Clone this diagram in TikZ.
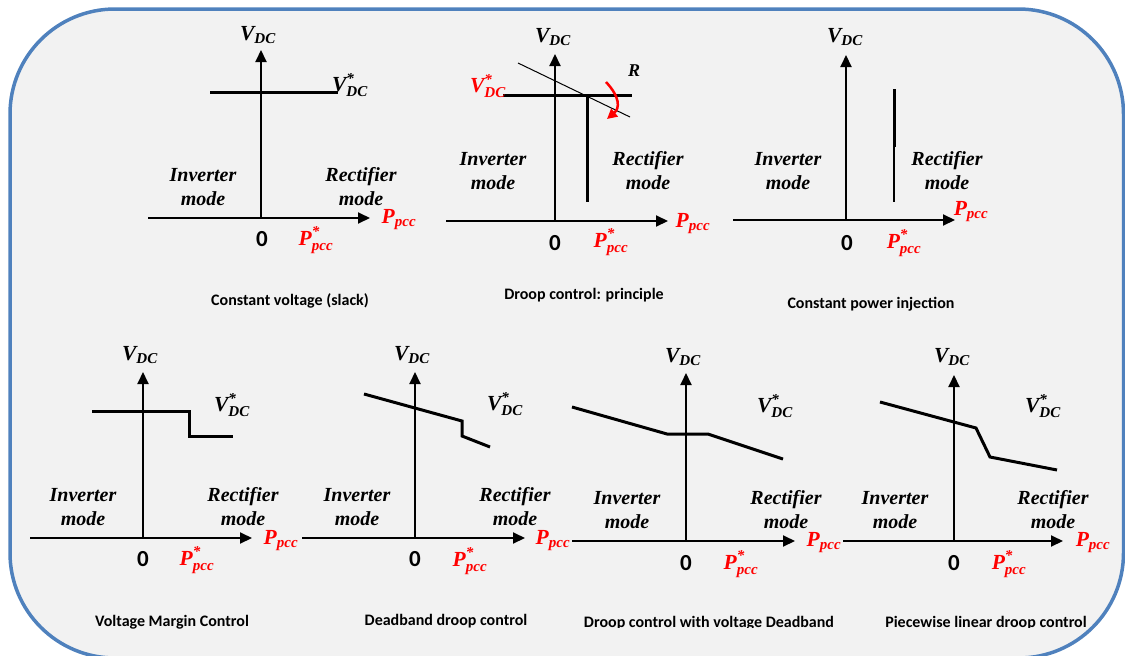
\documentclass[tikz,border=0pt]{standalone}
\usepackage{amsmath}
\usepackage{fontspec}
\setmainfont{Liberation Serif}
\newfontfamily\capfont{Carlito}
\usetikzlibrary{arrows.meta}
\definecolor{Frame_Blue}{HTML}{4F81BD}
\definecolor{Panel_Gray}{HTML}{F2F2F2}
\definecolor{Ref_Red}{HTML}{FF0000}
\newcommand{\bi}[1]{\text{\bfseries\itshape #1}}

\tikzset{
  axis/.style={line width=2pt, -{Triangle[length=12pt,width=11pt]}},
  curve/.style={line width=3pt},
  modelbl/.style={font=\fontsize{20}{24}\selectfont\bfseries\itshape, align=center},
  varlbl/.style={font=\fontsize{21.5}{25}\selectfont, inner sep=0pt},
  reflbl/.style={varlbl, text=Ref_Red},
  zerolbl/.style={font=\capfont\bfseries\fontsize{23}{26}\selectfont, inner sep=0pt},
  caplbl/.style={font=\capfont\bfseries\fontsize{16}{19}\selectfont, inner sep=0pt},
}

\begin{document}
\begin{tikzpicture}[x=1pt, y=-1pt]
    \useasboundingbox (0,0) rectangle (1125,656);
    \clip (0,0) rectangle (1125,656);
    \draw[line width=3.5pt, draw=Frame_Blue, fill=Panel_Gray, rounded corners=105pt] (10,9) rectangle (1123.5,658);

    % constant voltage (slack)
    \draw[axis] (148,218) -- (370,218);
    \draw[axis] (261,218) -- (261,50);
    \draw[curve] (210,92) -- (338,92);
    \node[varlbl] (v1) at (258,35) {$\bi{V}_{\bi{DC}}$};
    \node[varlbl] (vr1) at (350,85) {$\bi{V}^{\bi{*}}_{\bi{DC}}$};
    \node[modelbl] (inv1) at (203,187) {Inverter\\mode};
    \node[modelbl] (rec1) at (361,187) {Rectifier\\mode};
    \node[reflbl] (p1) at (399,220) {$\bi{P}_{\bi{pcc}}$};
    \node[zerolbl] (z1) at (262,239) {0};
    \node[reflbl] (pr1) at (316,240) {$\bi{P}^{\bi{*}}_{\bi{pcc}}$};
    \node[caplbl] (c1) at (290,301) {Constant voltage (slack)};

    % droop control: principle
    \draw[axis] (446,221) -- (668,221);
    \draw[axis] (555,221) -- (555,54);
    \draw[line width=1pt] (518,63) -- (630,117);
    \draw[curve] (503,95) -- (632,95);
    \draw[curve] (587,95) -- (587,202);
    \draw[line width=2.5pt, Ref_Red, -{Triangle[length=10pt,width=10pt]}] (606,82) .. controls (620,97) and (620,108) .. (607,119);
    \node[varlbl] (v2) at (553,37) {$\bi{V}_{\bi{DC}}$};
    \node[reflbl] (vr2) at (488,86) {$\bi{V}^{\bi{*}}_{\bi{DC}}$};
    \node[font=\fontsize{18}{20}\selectfont\bfseries\itshape, inner sep=0pt] (r2) at (634,71) {R};
    \node[modelbl] (inv2) at (493,171) {Inverter\\mode};
    \node[modelbl] (rec2) at (648,171) {Rectifier\\mode};
    \node[reflbl] (p2) at (693,224) {$\bi{P}_{\bi{pcc}}$};
    \node[zerolbl] (z2) at (555,243) {0};
    \node[reflbl] (pr2) at (611,242) {$\bi{P}^{\bi{*}}_{\bi{pcc}}$};
    \node[caplbl] (c2) at (584,295) {Droop control: principle};

    % constant power injection
    \draw[axis] (733,220) -- (955,220);
    \draw[axis] (846,220) -- (846,55);
    \draw[line width=3pt] (894,89) -- (894,147);
    \draw[line width=2pt] (894,147) -- (894,202);
    \node[varlbl] (v3) at (845,37) {$\bi{V}_{\bi{DC}}$};
    \node[modelbl] (inv3) at (788,171) {Inverter\\mode};
    \node[modelbl] (rec3) at (947,171) {Rectifier\\mode};
    \node[reflbl] (p3) at (971,212) {$\bi{P}_{\bi{pcc}}$};
    \node[zerolbl] (z3) at (847,243) {0};
    \node[reflbl] (pr3) at (904,243) {$\bi{P}^{\bi{*}}_{\bi{pcc}}$};
    \node[caplbl] (c3) at (871,304) {Constant power injection};

    % voltage margin control
    \draw[axis] (30,538) -- (252,538);
    \draw[axis] (143,538) -- (143,372);
    \draw[curve] (92,411) -- (189,411) -- (189,436) -- (233,436);
    \node[varlbl] (v4) at (140,355) {$\bi{V}_{\bi{DC}}$};
    \node[varlbl] (vr4) at (232,405) {$\bi{V}^{\bi{*}}_{\bi{DC}}$};
    \node[modelbl] (inv4) at (83,507) {Inverter\\mode};
    \node[modelbl] (rec4) at (243,507) {Rectifier\\mode};
    \node[reflbl] (p4) at (281,541) {$\bi{P}_{\bi{pcc}}$};
    \node[zerolbl] (z4) at (143,559) {0};
    \node[reflbl] (pr4) at (197,560) {$\bi{P}^{\bi{*}}_{\bi{pcc}}$};
    \node[caplbl] (c4) at (172,622) {Voltage Margin Control};

    % deadband droop control
    \draw[axis] (302,538) -- (525,538);
    \draw[axis] (415,538) -- (415,372);
    \draw[curve] (364,394) -- (462,421) -- (462,436) -- (490,447);
    \node[varlbl] (v5) at (412,355) {$\bi{V}_{\bi{DC}}$};
    \node[varlbl] (vr5) at (505,404) {$\bi{V}^{\bi{*}}_{\bi{DC}}$};
    \node[modelbl] (inv5) at (357,507) {Inverter\\mode};
    \node[modelbl] (rec5) at (515,507) {Rectifier\\mode};
    \node[reflbl] (p5) at (553,541) {$\bi{P}_{\bi{pcc}}$};
    \node[zerolbl] (z5) at (415,559) {0};
    \node[reflbl] (pr5) at (470,561) {$\bi{P}^{\bi{*}}_{\bi{pcc}}$};
    \node[caplbl] (c5) at (446,621) {Deadband droop control};

    % droop control with voltage deadband
    \draw[axis] (572,541) -- (795,541);
    \draw[axis] (686,541) -- (686,373);
    \draw[curve] (572,407) -- (667,434) -- (708,434) -- (783,459);
    \node[varlbl] (v6) at (683,357) {$\bi{V}_{\bi{DC}}$};
    \node[varlbl] (vr6) at (775,406) {$\bi{V}^{\bi{*}}_{\bi{DC}}$};
    \node[modelbl] (inv6) at (627,510) {Inverter\\mode};
    \node[modelbl] (rec6) at (786,510) {Rectifier\\mode};
    \node[reflbl] (p6) at (824,543) {$\bi{P}_{\bi{pcc}}$};
    \node[zerolbl] (z6) at (686,563) {0};
    \node[reflbl] (pr6) at (741,564) {$\bi{P}^{\bi{*}}_{\bi{pcc}}$};

    % piecewise linear droop control
    \draw[axis] (843,541) -- (1063,541);
    \draw[axis] (954,541) -- (954,375);
    \draw[curve] (880,402) -- (976,428) -- (990,457) -- (1057,470);
    \node[varlbl] (v7) at (952,357) {$\bi{V}_{\bi{DC}}$};
    \node[varlbl] (vr7) at (1043,406) {$\bi{V}^{\bi{*}}_{\bi{DC}}$};
    \node[modelbl] (inv7) at (895,510) {Inverter\\mode};
    \node[modelbl] (rec7) at (1053,510) {Rectifier\\mode};
    \node[reflbl] (p7) at (1093,543) {$\bi{P}_{\bi{pcc}}$};
    \node[zerolbl] (z7) at (954,563) {0};
    \node[reflbl] (pr7) at (1009,564) {$\bi{P}^{\bi{*}}_{\bi{pcc}}$};

    % these two captions are cut off at the bottom
    \begin{scope}
      \clip (560,600) rectangle (1100,627.5);
      \node[caplbl] (c6) at (709,623) {Droop control with voltage Deadband};
      \node[caplbl] (c7) at (986,623) {Piecewise linear droop control};
    \end{scope}
\end{tikzpicture}
\end{document}
